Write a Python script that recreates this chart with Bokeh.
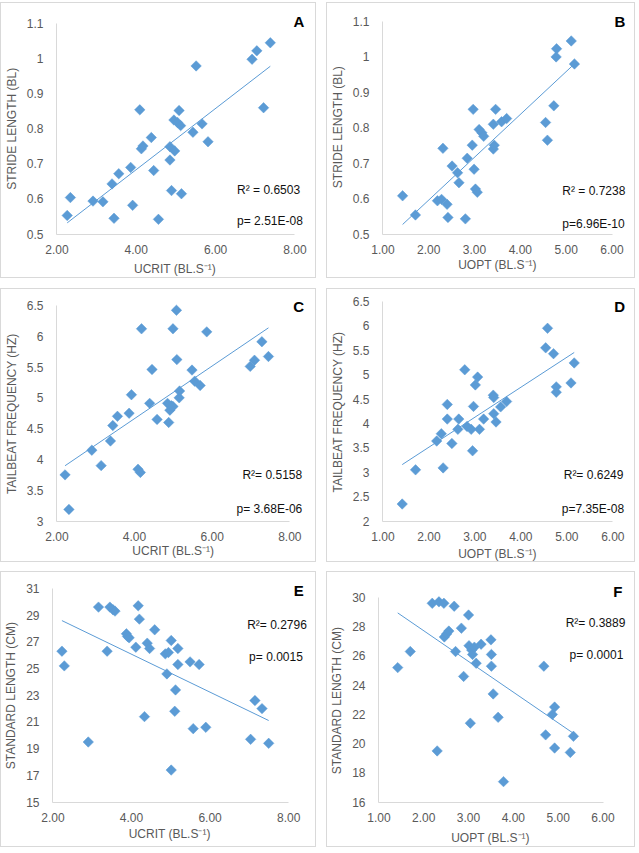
import numpy as np
from bokeh.plotting import figure
from bokeh.layouts import column, row
from bokeh.models import Range1d, FixedTicker, NumeralTickFormatter, Label, Spacer
from bokeh.embed import file_html
from bokeh.resources import INLINE

# ---------------- data ----------------
A_ucrit = [2.26, 2.34, 2.91, 3.16, 3.39, 3.56, 3.44, 3.86, 3.91, 4.09, 4.13, 4.17, 4.38, 4.44, 4.56, 4.85,
           4.85, 4.89, 4.97, 4.95, 5.04, 5.08, 5.12, 5.14, 5.43, 5.51, 5.66, 5.81, 6.92, 7.04, 7.21, 7.38]
A_stride = [0.553, 0.604, 0.594, 0.592, 0.643, 0.672, 0.545, 0.690, 0.582, 0.854, 0.743, 0.751, 0.775, 0.681,
            0.542, 0.749, 0.711, 0.624, 0.737, 0.825, 0.818, 0.852, 0.809, 0.615, 0.790, 0.979, 0.814, 0.763,
            0.998, 1.022, 0.860, 1.045]

B_uopt = [1.43, 1.71, 2.19, 2.28, 2.31, 2.40, 2.42, 2.51, 2.63, 2.66, 2.84, 2.80, 2.95, 2.97, 2.99, 3.02, 3.06,
          3.10, 3.16, 3.20, 3.41, 3.43, 3.41, 3.46, 3.59, 3.70, 4.55, 4.59, 4.73, 4.78, 4.79, 5.11, 5.18]
B_stride = [0.608, 0.554, 0.594, 0.598, 0.742, 0.584, 0.547, 0.692, 0.673, 0.645, 0.714, 0.543, 0.751, 0.852,
            0.683, 0.627, 0.618, 0.795, 0.786, 0.776, 0.740, 0.751, 0.810, 0.852, 0.817, 0.826, 0.815, 0.765,
            0.862, 1.000, 1.023, 1.045, 0.980]

C_ucrit = [2.21, 2.31, 2.90, 3.14, 3.38, 3.44, 3.56, 3.86, 3.92, 4.09, 4.15, 4.18, 4.39, 4.45, 4.58, 4.85, 4.88,
           4.91, 4.95, 4.99, 4.99, 5.08, 5.09, 5.15, 5.16, 5.48, 5.55, 5.69, 5.86, 6.98, 7.09, 7.28, 7.45]
C_tbf = [3.75, 3.19, 4.15, 3.90, 4.30, 4.55, 4.70, 4.75, 5.05, 3.84, 3.79, 6.12, 4.91, 5.46, 4.65, 4.91, 4.60,
         4.80, 4.87, 4.86, 6.12, 6.42, 5.62, 5.00, 5.11, 5.45, 5.27, 5.20, 6.07, 5.51, 5.61, 5.91, 5.67]

D_uopt = [1.42, 1.71, 2.17, 2.27, 2.31, 2.40, 2.40, 2.50, 2.63, 2.65, 2.78, 2.83, 2.92, 2.95, 2.97, 3.01, 3.06,
          3.10, 3.19, 3.40, 3.41, 3.41, 3.46, 3.56, 3.69, 4.54, 4.58, 4.71, 4.77, 4.77, 5.09, 5.16]
D_tbf = [2.35, 3.05, 3.64, 3.79, 3.09, 4.39, 4.09, 3.59, 3.88, 4.09, 5.10, 3.94, 3.88, 3.44, 4.35, 4.79, 4.95,
         3.88, 4.09, 4.58, 4.53, 4.20, 4.03, 4.34, 4.45, 5.55, 5.95, 5.43, 4.75, 4.64, 4.83, 5.24]

E_ucrit = [2.23, 2.29, 2.90, 3.16, 3.38, 3.45, 3.53, 3.58, 3.87, 3.90, 3.94, 4.11, 4.17, 4.20, 4.33, 4.40, 4.46,
           4.59, 4.86, 4.94, 4.90, 5.01, 5.01, 5.10, 5.12, 5.18, 5.18, 5.49, 5.57, 5.72, 5.89, 7.03, 7.14, 7.32, 7.49]
E_sl = [26.3, 25.2, 19.5, 29.6, 26.3, 29.6, 29.4, 29.3, 27.6, 27.4, 27.3, 26.6, 29.7, 28.7, 21.4, 26.9, 26.5,
        27.9, 26.1, 26.2, 24.6, 27.1, 17.4, 21.8, 23.4, 26.5, 25.3, 25.5, 20.5, 25.3, 20.6, 19.7, 22.6, 22.0, 19.4]

F_uopt = [1.42, 1.70, 2.19, 2.30, 2.34, 2.45, 2.46, 2.51, 2.56, 2.68, 2.71, 2.84, 2.89, 3.00, 3.01, 3.04, 3.07,
          3.09, 3.13, 3.17, 3.28, 3.50, 3.51, 3.51, 3.55, 3.66, 3.78, 4.68, 4.72, 4.87, 4.92, 4.92, 5.27, 5.34]
F_sl = [25.2, 26.3, 29.6, 19.5, 29.7, 29.6, 27.3, 27.5, 27.7, 29.4, 26.3, 27.9, 24.6, 28.8, 26.7, 21.4, 26.4,
        26.1, 26.6, 25.5, 26.8, 27.1, 26.1, 25.3, 23.4, 21.8, 17.4, 25.3, 20.6, 22.0, 22.5, 19.7, 19.4, 20.5]

ucrit_ticks = [2, 4, 6, 8]
uopt_ticks = [1, 2, 3, 4, 5, 6]
stride_ticks = [0.5, 0.6, 0.7, 0.8, 0.9, 1.0, 1.1]
tbf_C_ticks = [3, 3.5, 4, 4.5, 5, 5.5, 6, 6.5]
tbf_D_ticks = [2, 2.5, 3, 3.5, 4, 4.5, 5, 5.5, 6, 6.5]
sl_E_ticks = [15, 17, 19, 21, 23, 25, 27, 29, 31]
sl_F_ticks = [16, 18, 20, 22, 24, 26, 28, 30]

X_UCRIT = "UCRIT (BL.S\u207B\u00B9)"
X_UOPT = "UOPT (BL.S\u207B\u00B9)"

# ---------------- style ----------------
FONT = "Liberation Sans"
BLUE = "#5b9bd5"
GREY_TXT = "#595959"
AXIS_LINE = "#d9d9d9"
SPACE_W = 0.278 * 12      # width of a 12px space in Liberation Sans
NBSP = "\u00A0"


def panel(xs, ys, xticks, yticks, xlabel, ylabel, letter, stats,
          box, ref_box, ref_axes, ref_letter, ref_stats, xlab_standoff):
    W, H = box                     # outer size (1px css border included)
    RW, RH = ref_box               # reference outer box size
    sx, sy = W / RW, H / RH
    L, T, R, B = ref_axes
    al, ar, at, ab = round(L * sx - 1), R * sx - 1, T * sy - 1, round(B * sy - 1)
    fr, ft = W - 4, 3
    x0, x1 = xticks[0], xticks[-1]
    y0, y1 = yticks[0], yticks[-1]
    ux = (x1 - x0) / (ar - al)
    uy = (y1 - y0) / (ab - at)
    eps_x = 0.4 * ux
    eps_y = 0.4 * uy
    p = figure(width=W, height=H, output_backend="svg", toolbar_location=None,
               x_range=Range1d(x0 - eps_x, x1 + (fr - ar) * ux),
               y_range=Range1d(y0 - eps_y, y1 + (at - ft) * uy),
               min_border_left=al, min_border_right=W - fr,
               min_border_top=ft, min_border_bottom=H - ab,
               background_fill_color="white", border_fill_color="white")
    p.styles = {"border": "1px solid #d9d9d9"}
    p.outline_line_color = None
    p.xgrid.visible = False
    p.ygrid.visible = False

    p.xaxis.ticker = FixedTicker(ticks=xticks)
    p.yaxis.ticker = FixedTicker(ticks=yticks)
    p.xaxis.bounds = (x0, x1)
    p.yaxis.bounds = (y0, y1)
    p.xaxis.formatter = NumeralTickFormatter(format="0.00")
    p.yaxis.formatter = NumeralTickFormatter(format="0.[0]")
    # axis titles are centred on the plotting frame; pad them so that the visible
    # text is centred on the drawn axis line instead
    p.xaxis.axis_label = xlabel + NBSP * max(0, round((fr - ar) / SPACE_W))
    p.yaxis.axis_label = ylabel + NBSP * max(0, round((at - ft) / SPACE_W))
    for ax in (p.xaxis[0], p.yaxis[0]):
        ax.axis_line_color = AXIS_LINE
        ax.axis_line_width = 1
        ax.major_tick_line_color = None
        ax.minor_tick_line_color = None
        ax.major_tick_out = 0
        ax.major_tick_in = 0
        ax.minor_tick_out = 0
        ax.minor_tick_in = 0
        ax.major_label_text_font = FONT
        ax.major_label_text_font_size = "12px"
        ax.major_label_text_color = GREY_TXT
        ax.axis_label_text_font = FONT
        ax.axis_label_text_font_size = "12px"
        ax.axis_label_text_font_style = "normal"
        ax.axis_label_text_color = GREY_TXT
    p.yaxis.major_label_standoff = 13
    p.yaxis.axis_label_standoff = 5
    p.xaxis.major_label_standoff = 10
    p.xaxis.axis_label_standoff = xlab_standoff

    # trend line (least squares through the data)
    xa = np.array(xs, dtype=float)
    ya = np.array(ys, dtype=float)
    k, c = np.polyfit(xa, ya, 1)
    xl = np.array([xa.min(), xa.max()])
    p.line(xl, k * xl + c, line_color=BLUE, line_width=1)

    p.scatter(xs, ys, marker="square", angle=np.pi / 4, size=7.4,
              fill_color=BLUE, line_color=BLUE, line_width=0.5)

    def to_data(px, py):
        return x0 + (px * sx - 1 - al) * ux, y0 + (ab - (py * sy - 1)) * uy

    lx, ly = to_data(*ref_letter)
    p.add_layout(Label(x=lx, y=ly, text=letter, text_font=FONT, text_font_size="15px",
                       text_font_style="bold", text_color="black",
                       text_align="center", text_baseline="middle"))
    for txt, pos in zip(stats, ref_stats):
        tx, ty = to_data(*pos)
        p.add_layout(Label(x=tx, y=ty, text=txt, text_font=FONT, text_font_size="12px",
                           text_color="#111111", text_align="left", text_baseline="middle"))
    return p


LW, RWd = 316, 309
H1, H2, H3 = 276, 274, 276

pA = panel(A_ucrit, A_stride, ucrit_ticks, stride_ticks, X_UCRIT, "STRIDE LENGTH (BL)", "A",
           ["R\u00B2 = 0.6503", "p= 2.51E-08"],
           (LW, H1), (316, 276), (51, 21, 294, 232), (298, 19), [(235, 188), (235, 219)], 5)
pB = panel(B_uopt, B_stride, uopt_ticks, stride_ticks, X_UOPT, "STRIDE LENGTH (BL)", "B",
           ["R\u00B2 = 0.7238", "p=6.96E-10"],
           (RWd, H1), (309, 276), (50, 19, 285, 232), (293, 19), [(234, 189), (234, 222)], 1)
pC = panel(C_ucrit, C_tbf, ucrit_ticks, tbf_C_ticks, X_UCRIT, "TAILBEAT FREQUENCY (HZ)", "C",
           ["R\u00B2= 0.5158", "p= 3.68E-06"],
           (LW, H2), (316, 274), (53, 17, 289, 235), (298, 18), [(241, 188), (235, 223)], 0)
pD = panel(D_uopt, D_tbf, uopt_ticks, tbf_D_ticks, X_UOPT, "TAILBEAT FREQUENCY (HZ)", "D",
           ["R\u00B2= 0.6249", "p=7.35E-08"],
           (RWd, H2), (309, 274), (52, 13, 286, 234), (293, 18), [(236, 188), (234, 222)], 3)
pE = panel(E_ucrit, E_sl, ucrit_ticks, sl_E_ticks, X_UCRIT, "STANDARD LENGTH (CM)", "E",
           ["R\u00B2= 0.2796", "p= 0.0015"],
           (LW, H3), (315, 276), (49, 17, 287, 232), (297, 19), [(245, 54), (247, 86)], 2)
pF = panel(F_uopt, F_sl, uopt_ticks, sl_F_ticks, X_UOPT, "STANDARD LENGTH (CM)", "F",
           ["R\u00B2= 0.3889", "p= 0.0001"],
           (RWd, H3), (309, 276), (48, 26, 276, 231), (291, 20), [(238, 52), (242, 84)], 6)

layout = column(
    Spacer(width=10, height=2),
    row(pA, pB, spacing=10),
    Spacer(width=10, height=10),
    row(pC, pD, spacing=10),
    Spacer(width=10, height=9),
    row(pE, pF, spacing=10),
)

open("out.html", "w").write(file_html(layout, INLINE))
